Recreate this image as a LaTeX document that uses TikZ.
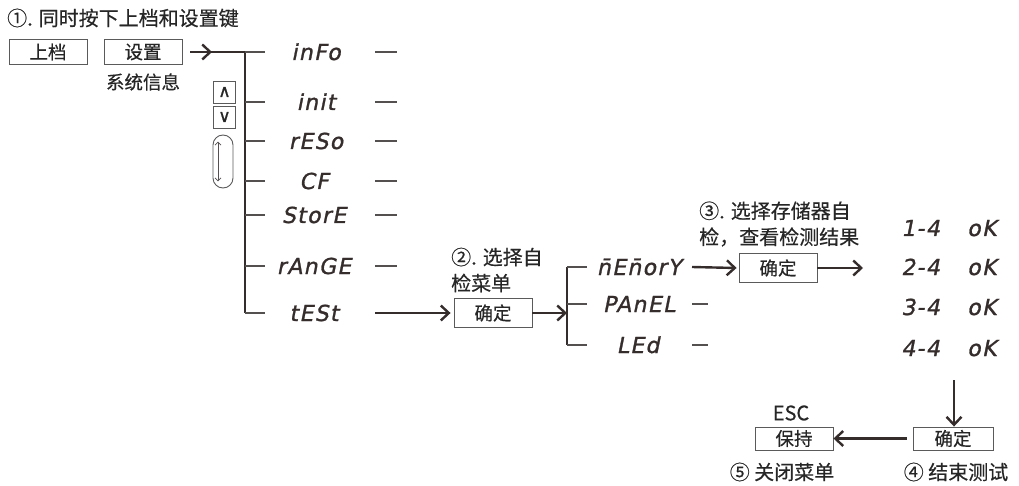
\documentclass[tikz,border=0pt]{standalone}
\usepackage{fontspec}
\setmainfont[FakeBold=0.4]{Noto Sans CJK SC}
\newfontfamily\segfont[FakeSlant=0.2,FakeBold=1.2,LetterSpace=6]{DejaVu Sans}
\newfontfamily\symfont[FakeBold=1]{DejaVu Sans}
\usetikzlibrary{arrows.meta}
\definecolor{lc}{HTML}{352C2C}
\definecolor{tc}{HTML}{555050}
\definecolor{bc}{HTML}{5A5A5A}
\definecolor{tx}{HTML}{262626}
\tikzset{
  ln/.style={draw=lc, line width=2.3pt},
  tickln/.style={draw=tc, line width=1.1pt},
  arr/.style={draw=lc, line width=2.4pt, -{Straight Barb[length=8pt,width=15pt]}},
  keybox/.style={draw=bc, line width=0.9pt, minimum height=25pt, minimum width=78pt, inner sep=0pt, text=tx, font=\fontsize{18.5}{18.5}\selectfont},
  seg/.style={font=\segfont\fontsize{22}{22}\selectfont, text=lc, inner sep=0pt, text height=16pt, text depth=0pt},
  lbl/.style={font=\fontsize{20}{26}\selectfont, text=tx, inner sep=0pt, align=left},
  small/.style={font=\fontsize{18.5}{18.5}\selectfont, text=tx, inner sep=0pt},
}
\begin{document}
\begin{tikzpicture}[x=1pt,y=-1pt]
\useasboundingbox (0,0) rectangle (1019,486);
% title
\node[lbl, anchor=west] (title) at (7,18) {①. 同时按下上档和设置键};
% keys
\node[keybox] (shang) at (48,52) {上档};
\node[keybox] (shezhi) at (143,52) {设置};
\node[small] (xtxx) at (143,82) {系统信息};
% up/down keys
\node[keybox, minimum width=22pt, minimum height=22pt, font=\symfont\fontsize{17}{17}\selectfont] (up) at (224.5,92) {∧};
\node[keybox, minimum width=22pt, minimum height=22pt, font=\symfont\fontsize{17}{17}\selectfont] (dn) at (224.5,117) {∨};
\node[draw=bc, line width=0.9pt, rounded corners=10pt, minimum width=20pt, minimum height=53pt, inner sep=0pt] (ov) at (223,161.5) {};
\draw[draw=tc, line width=0.8pt, {Straight Barb[length=3pt,width=6pt]}-{Straight Barb[length=3pt,width=6pt]}] ([xshift=-5pt,yshift=-7pt]ov.north) -- ([xshift=-5pt,yshift=7pt]ov.south);
% menu 1
\node[seg] (m1) at (316,52) {inFo};
\node[seg] (m2) at (316,102) {init};
\node[seg] (m3) at (316,141) {rESo};
\node[seg] (m4) at (314,181) {CF};
\node[seg] (m5) at (314,215) {StorE};
\node[seg] (m6) at (314,266) {rAnGE};
\node[seg] (m7) at (314,313) {tESt};
\coordinate (sp1) at (245,52);
\coordinate (tipA) at (212,52);
\coordinate (rx) at (375,0);
\draw[ln] ([xshift=8pt]shezhi.east) -- (sp1) -- (sp1 |- m7);
\draw[arr] ([xshift=8pt]shezhi.east) -- (tipA);
\foreach \m in {m1,m2,m3,m4,m5,m6,m7} {
  \draw[tickln] (sp1 |- \m) -- ++(20,0);
}
\foreach \m in {m1,m2,m3,m4,m5,m6} {
  \draw[tickln] (rx |- \m) -- ++(22,0);
}
% step 2
\node[keybox, minimum height=29pt] (qd1) at (493,313) {确定};
\node[lbl, anchor=west] (l2) at (451,270) {②. 选择自\\检菜单};
\draw[arr] (rx |- m7) -- ([xshift=-3pt]qd1.west);
% menu 2
\node[seg] (n1) at (639,267) {\=nE\=norY};
\node[seg] (n2) at (639,304) {PAnEL};
\node[seg] (n3) at (638,345) {LEd};
\coordinate (sp2) at (567,0);
\coordinate (rx2) at (692,0);
\draw[arr] (qd1.east) -- (sp2 |- qd1);
\draw[ln] (sp2 |- n1) -- (sp2 |- n3);
\foreach \m in {n1,n2,n3} {
  \draw[tickln] (sp2 |- \m) -- ++(20,0);
}
\foreach \m in {n2,n3} {
  \draw[tickln] (rx2 |- \m) -- ++(16,0);
}
% step 3
\node[keybox, minimum height=29pt] (qd2) at (778,268) {确定};
\node[lbl, anchor=west] (l3) at (699,224) {③. 选择存储器自\\检，查看检测结果};
\draw[arr] (rx2 |- n1) -- ([xshift=-2pt]qd2.west);
\coordinate (ra) at (863,268);
\draw[arr] (qd2.east) -- (ra);
% results
\node[seg, anchor=east] (r1) at (940,228) {1-4};
\node[seg, anchor=east] (r2) at (940,267) {2-4};
\node[seg, anchor=east] (r3) at (940,307) {3-4};
\node[seg, anchor=east] (r4) at (940,348) {4-4};
\node[seg, anchor=west] (k1) at (967,228) {oK};
\node[seg, anchor=west] (k2) at (967,267) {oK};
\node[seg, anchor=west] (k3) at (967,307) {oK};
\node[seg, anchor=west] (k4) at (967,348) {oK};
% step 4/5
\node[keybox, minimum width=80pt, minimum height=23pt] (qd3) at (953,438.5) {确定};
\node[keybox, minimum width=78pt, minimum height=23pt] (bc1) at (794,438.5) {保持};
\coordinate (da) at (954,380);
\draw[arr] (da) -- (da |- qd3.north);
\draw[arr] ([xshift=-6pt]qd3.west) -- (bc1.east);
\node[small, font=\fontsize{20}{20}\selectfont] (esc) at (791,413) {ESC};
\node[lbl] (l5) at (782,472) {⑤ 关闭菜单};
\node[lbl] (l4) at (956,472) {④ 结束测试};
\end{tikzpicture}
\end{document}
